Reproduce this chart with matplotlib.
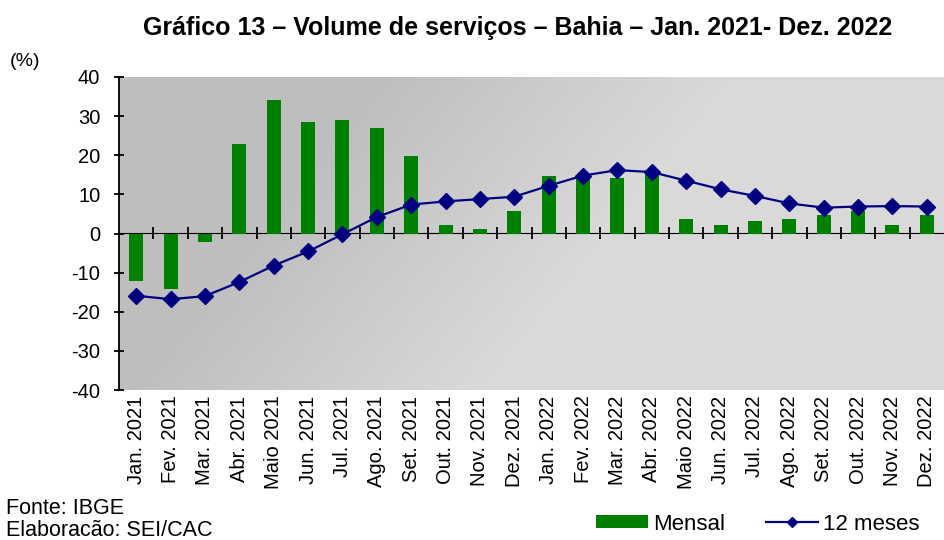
import matplotlib

matplotlib.use("Agg")

import matplotlib.pyplot as plt
import numpy as np
from matplotlib.colors import LinearSegmentedColormap

plt.rcParams["font.family"] = ["Liberation Sans", "DejaVu Sans"]

MESES = [
    "Jan. 2021", "Fev. 2021", "Mar. 2021", "Abr. 2021", "Maio 2021", "Jun. 2021",
    "Jul. 2021", "Ago. 2021", "Set. 2021", "Out. 2021", "Nov. 2021", "Dez. 2021",
    "Jan. 2022", "Fev. 2022", "Mar. 2022", "Abr. 2022", "Maio 2022", "Jun. 2022",
    "Jul. 2022", "Ago. 2022", "Set. 2022", "Out. 2022", "Nov. 2022", "Dez. 2022",
]

MENSAL = [
    -12.2, -14.1, -2.3, 22.8, 34.1, 28.4, 28.9, 26.9, 19.7, 2.2, 1.2, 5.8,
    14.6, 15.0, 14.1, 15.8, 3.8, 2.2, 3.3, 3.8, 4.8, 5.8, 2.2, 4.8,
]

DOZE_MESES = [
    -15.9, -16.8, -16.0, -12.4, -8.2, -4.6, -0.2, 4.2, 7.4, 8.2, 8.8, 9.4,
    12.2, 14.8, 16.2, 15.7, 13.5, 11.3, 9.6, 7.7, 6.6, 6.9, 7.0, 6.9,
]

Y_TICKS = [-40, -30, -20, -10, 0, 10, 20, 30, 40]

GREEN = "#008000"
NAVY = "#000080"

fig = plt.figure(figsize=(9.44, 5.40), dpi=100, facecolor="white")
W, H = 944, 540
ax = fig.add_axes([119 / W, 1 - 390 / H, 825 / W, 313 / H])

# diagonal grey gradient behind the plot (dark top-left, light bottom-right)
gx, gy = np.meshgrid(np.linspace(0, 825, 200), np.linspace(0, 313, 100))
s = 313 * gx + 250 * gy
t = np.clip((s - 80000) / (190000 - 80000), 0, 1)
grey = LinearSegmentedColormap.from_list("bg", ["#bebebe", "#d9d9d9"])
ax.imshow(t, cmap=grey, vmin=0, vmax=1, extent=(0, 1, 0, 1), transform=ax.transAxes,
          aspect="auto", origin="upper", zorder=0, interpolation="bilinear")

x = np.arange(len(MESES))
bars = ax.bar(x, MENSAL, width=0.41, color=GREEN, zorder=2, label="Mensal")
line, = ax.plot(x, DOZE_MESES, color=NAVY, lw=1.6, marker="D", markersize=8.5,
                zorder=3, label="12 meses")

ax.set_xlim(-0.5, len(MESES) - 0.5)
ax.set_ylim(-40, 40)
ax.set_yticks(Y_TICKS)
ax.set_yticklabels([str(v) for v in Y_TICKS], fontsize=14.5)
ax.tick_params(axis="y", direction="inout", length=7, width=1.3, pad=10, colors="black")

ax.set_xticks(x)
ax.set_xticklabels(MESES, rotation=90, fontsize=14.5)
ax.tick_params(axis="x", length=0, pad=4)

for side in ["top", "right", "bottom"]:
    ax.spines[side].set_visible(False)
ax.spines["left"].set_linewidth(1.3)

# zero line with category-boundary ticks
zero = ax.secondary_xaxis(0.5)
zero.set_xticks(np.arange(len(MESES) - 1) + 0.5)
zero.set_xticklabels([])
zero.tick_params(direction="inout", length=8, width=1.3)
zero.spines["bottom"].set_linewidth(1.6)

fig.text(518 / W, 1 - 28 / H, "Gráfico 13 – Volume de serviços – Bahia – Jan. 2021- Dez. 2022",
         ha="center", va="center", fontsize=18, fontweight="bold")
fig.text(10 / W, 1 - 61 / H, "(%)", ha="left", va="center", fontsize=14)
fig.text(6 / W, 1 - 508 / H, "Fonte: IBGE", ha="left", va="center", fontsize=15.5)
fig.text(6 / W, 1 - 530 / H, "Elaboracão: SEI/CAC", ha="left", va="center", fontsize=15.5)

leg = fig.legend(handles=[bars, line], loc="center right", bbox_to_anchor=(931 / W, 1 - 524 / H),
                 ncol=2, frameon=False, fontsize=16, handlelength=2.35, handleheight=0.5,
                 handletextpad=0.25, columnspacing=1.8, borderpad=0, markerscale=0.6)

fig.savefig("out.png", dpi=100, facecolor="white")
